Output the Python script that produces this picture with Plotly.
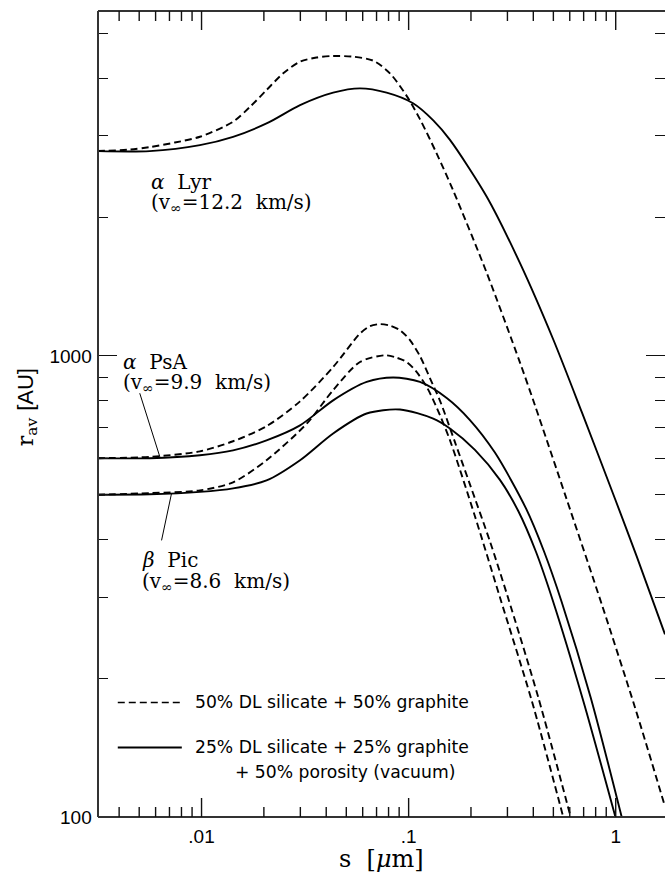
import math
import plotly.graph_objects as go

# Average distance r_av [AU] versus grain radius s [um]
# "dl": 50% DL silicate + 50% graphite (dashed)
# "por": 25% DL silicate + 25% graphite + 50% porosity (solid)

lyr_dl_s = [0.00315, 0.00451, 0.00562, 0.00743, 0.00982, 0.0142, 0.0171, 0.0206, 0.0248,
            0.0299, 0.0359, 0.0432, 0.0540, 0.0675, 0.0812, 0.0978, 0.1134, 0.1365,
            0.1643, 0.238, 0.345, 0.4075, 0.575, 0.859, 1.239, 1.730]
lyr_dl_r = [2781, 2802, 2837, 2902, 2987, 3220, 3465, 3772, 4101,
            4345, 4437, 4471, 4456, 4367, 4101, 3664, 3262, 2749,
            2281, 1516, 967, 781, 494, 288, 172.8, 105.4]

lyr_por_s = [0.00315, 0.00562, 0.00982, 0.0142, 0.0206, 0.0299, 0.0432, 0.0582, 0.0783,
             0.105, 0.1315, 0.158, 0.238, 0.345, 0.500, 0.686, 0.992, 1.263, 1.730]
lyr_por_r = [2781, 2781, 2864, 2985, 3192, 3499, 3724, 3804, 3724,
             3532, 3243, 2945, 2217, 1589, 1084, 755, 490, 367.5, 249]

psa_dl_s = [0.00315, 0.00562, 0.00982, 0.0142, 0.0206, 0.0299, 0.0432, 0.0582, 0.065,
            0.0727, 0.0812, 0.0908, 0.1015, 0.1134, 0.1267, 0.1427, 0.1674, 0.1977,
            0.247, 0.2995, 0.4228, 0.606]
psa_dl_r = [600, 604, 621, 653, 704, 797, 946, 1118, 1160,
            1172, 1163, 1137, 1082, 999, 895, 793, 650, 526.6,
            396, 302.5, 181.7, 100]

psa_por_s = [0.00315, 0.00562, 0.00982, 0.0142, 0.0206, 0.0299, 0.0432, 0.0627, 0.0842,
             0.1134, 0.1527, 0.1977, 0.261, 0.3687, 0.4503, 0.548, 0.757, 1.069]
psa_por_r = [600, 600, 609, 624, 656, 707, 801, 878, 898,
             878, 810.5, 726, 617, 467, 377, 293, 181.7, 100]

pic_dl_s = [0.00315, 0.00562, 0.00982, 0.0142, 0.0206, 0.0322, 0.0432, 0.0582, 0.0768,
            0.0859, 0.0978, 0.1085, 0.1222, 0.137, 0.1583, 0.209, 0.276, 0.3928, 0.558]
pic_dl_r = [500, 504, 511, 532, 594, 713, 843, 970, 1003,
            993.6, 970, 926.4, 857, 770, 656.4, 449, 299.5, 179, 100]

pic_por_s = [0.00315, 0.00562, 0.00982, 0.0142, 0.0206, 0.0299, 0.0432, 0.0627, 0.0908,
             0.1315, 0.1583, 0.209, 0.276, 0.3384, 0.412, 0.4994, 0.6975, 0.997]
pic_por_r = [500, 501, 507, 516, 537, 594, 679, 750, 765,
             731, 696, 625.5, 538.4, 460.9, 376, 292.7, 178.5, 100]

# leader lines from the star labels to their curves
psa_leader_s = [0.00503, 0.00629]
psa_leader_r = [830, 604]
pic_leader_s = [0.00641, 0.00716]
pic_leader_r = [398, 503]

# key samples
key_s = [0.00394, 0.00803]
key_dl_r = [177.2, 177.2]
key_por_r = [141.5, 141.5]

x_ticks = [0.01, 0.1, 1]
x_ticktext = [".01", ".1", "1"]
y_ticks = [100, 1000]
y_ticktext = ["100\u00a0", "1000\u00a0"]
x_minor = [k * 10.0 ** e for e in (-3, -2, -1) for k in range(2, 10)]
y_minor = [k * 10.0 ** e for e in (2, 3) for k in range(2, 10)]

SERIF = "DejaVu Serif"
SANS = "Liberation Sans"
INK = "black"
AXIS = "#333"
TICK = "#111"
DASH = "7px,4px"

WIDTH, HEIGHT = 665, 882
MARGIN = dict(l=98, r=0, t=11, b=65)
PLOT_H = HEIGHT - MARGIN["t"] - MARGIN["b"]
X_RANGE = [-2.5, 0.238]
Y_RANGE = [2, 3.748]
MAJOR_LEN, MINOR_LEN = 19, 10

fig = go.Figure()


def curve(s, r, dashed, width=1.9):
    fig.add_trace(go.Scatter(
        x=s, y=r, mode="lines", showlegend=False, hoverinfo="skip",
        line=dict(color=INK, width=width, dash=DASH if dashed else "solid",
                  shape="spline", smoothing=0.8),
    ))


curve(lyr_dl_s, lyr_dl_r, True)
curve(lyr_por_s, lyr_por_r, False)
curve(psa_dl_s, psa_dl_r, True)
curve(psa_por_s, psa_por_r, False)
curve(pic_dl_s, pic_dl_r, True)
curve(pic_por_s, pic_por_r, False)

for s, r in ((psa_leader_s, psa_leader_r), (pic_leader_s, pic_leader_r)):
    fig.add_trace(go.Scatter(x=s, y=r, mode="lines", showlegend=False, hoverinfo="skip",
                             line=dict(color=INK, width=1)))

curve(key_s, key_dl_r, True, width=1.4)
curve(key_s, key_por_r, False, width=1.9)


def label(s, r, text, size=20, family=SERIF, xanchor="left"):
    fig.add_annotation(x=math.log10(s), y=math.log10(r), xref="x", yref="y", text=text,
                       showarrow=False, xanchor=xanchor, yanchor="middle",
                       font=dict(family=family, size=size, color=INK))


NB = "\u00a0"
label(0.0056, 2380, "<i>α</i>" + NB + NB + "Lyr")
label(0.0056, 2145, "(v<sub>∞</sub>=12.2" + NB + NB + "km/s)")
label(0.00408, 969, "<i>α</i>" + NB + NB + "PsA")
label(0.00408, 873, "(v<sub>∞</sub>=9.9" + NB + NB + "km/s)")
label(0.00503, 360, "<i>β</i>" + NB + NB + "Pic")
label(0.00503, 324, "(v<sub>∞</sub>=8.6" + NB + NB + "km/s)")

label(0.00908, 177.2, "50% DL silicate + 50% graphite", size=17.2, family="DejaVu Sans")
label(0.00908, 141.5, "25% DL silicate + 25% graphite", size=17.2, family="DejaVu Sans")
label(0.01416, 124.9, "+ 50% porosity (vacuum)", size=17.2, family="DejaVu Sans")

# axis titles
fig.add_annotation(x=-0.1252, y=0.5084, xref="paper", yref="paper", textangle=-90,
                   showarrow=False, xanchor="center", yanchor="middle",
                   text="r<sub>av</sub> <span style='font-family:Liberation Sans'>[AU]</span>",
                   font=dict(family=SERIF, size=22, color=INK))
fig.add_annotation(x=0.5, y=-0.0515, xref="paper", yref="paper",
                   showarrow=False, xanchor="center", yanchor="middle",
                   text="s" + NB + NB + "[<i>μ</i>m]",
                   font=dict(family=SERIF, size=24, color=INK))

# frame: left, bottom and top edges (the right edge falls just outside the page)
for x0, y0, x1, y1 in ((0, 0, 0, 1), (0, 0, 1, 0), (0, 1, 1, 1)):
    fig.add_shape(type="line", xref="paper", yref="paper", x0=x0, y0=y0, x1=x1, y1=y1,
                  line=dict(color=AXIS, width=2))

# inward x ticks on the bottom and top edges, placed on the x scale
for values, length in ((x_ticks, MAJOR_LEN), (x_minor, MINOR_LEN)):
    frac = length / PLOT_H
    for v in values:
        if not (X_RANGE[0] < math.log10(v) < X_RANGE[1]):
            continue
        for y0, y1 in ((0, frac), (1, 1 - frac)):
            fig.add_shape(type="line", xref="x", yref="paper", x0=v, x1=v, y0=y0, y1=y1,
                          line=dict(color=TICK, width=1.4))

minor_in = dict(ticks="inside", ticklen=MINOR_LEN, tickwidth=1.4, tickcolor=TICK,
                showgrid=False)

fig.update_layout(
    width=WIDTH, height=HEIGHT,
    margin=MARGIN,
    paper_bgcolor="white", plot_bgcolor="white",
    xaxis=dict(type="log", range=X_RANGE, tickvals=x_ticks, ticktext=x_ticktext,
               ticks="", tickfont=dict(family=SANS, size=19, color=INK),
               ticklabelstandoff=6, showgrid=False, zeroline=False, showline=False,
               automargin=False),
    yaxis=dict(type="log", range=Y_RANGE, tickvals=y_ticks, ticktext=y_ticktext,
               ticks="inside", mirror="ticks", ticklen=MAJOR_LEN, tickwidth=1.4,
               tickcolor=TICK, tickfont=dict(family=SANS, size=19, color=INK),
               minor=dict(tickvals=y_minor, **minor_in), showgrid=False, zeroline=False,
               showline=False, automargin=False),
    showlegend=False,
)

fig.write_html("out.html")
